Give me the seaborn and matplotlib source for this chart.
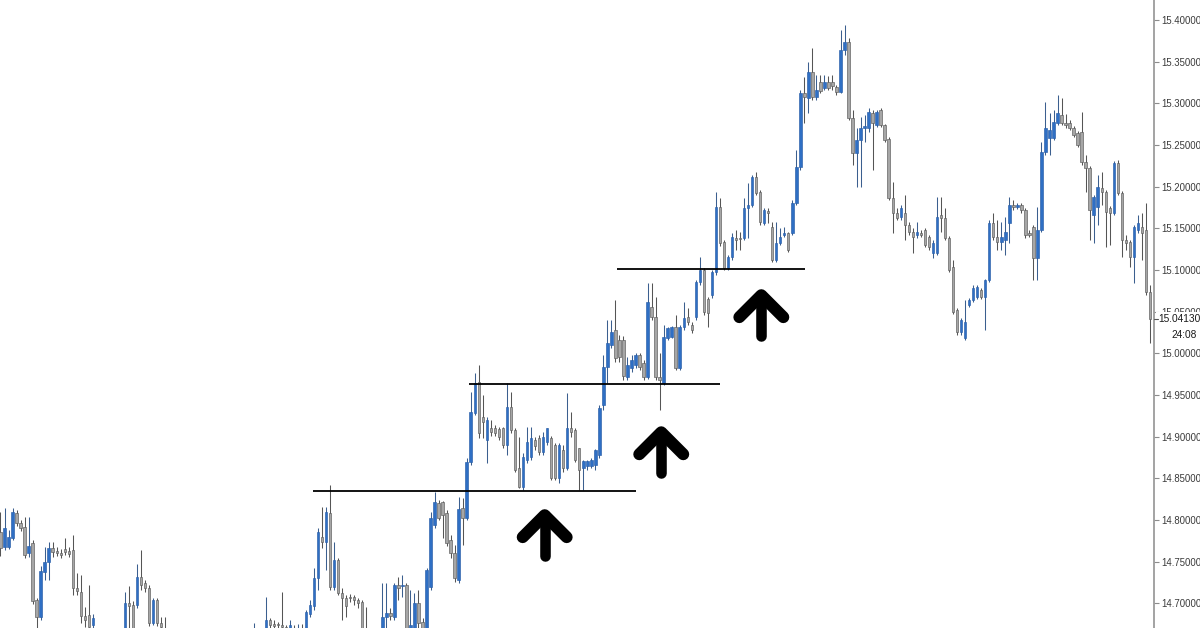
import numpy as np
import pandas as pd
import matplotlib
matplotlib.use("Agg")
import matplotlib.pyplot as plt
import matplotlib.transforms as mtransforms
from matplotlib.patches import Rectangle
import seaborn as sns

# ---- OHLC series (one candle per bar) ----
opens = [
    14.786, 14.768, 14.768, 14.778, 14.808, 14.796, 14.792, 14.760, 14.772, 14.704,
    14.684, 14.738, 14.750, 14.766, 14.763, 14.760, 14.765, 14.763, 14.764, 14.718,
    14.714, 14.685, 14.686, 14.674, 14.666, 14.650, 14.642, 14.656, 14.644, 14.652,
    14.658, 14.656, 14.700, 14.698, 14.698, 14.732, 14.724, 14.718, 14.676, 14.704,
    14.676, 14.668, 14.656, 14.650, 14.638, 14.630, 14.620, 14.632, 14.622, 14.614,
    14.608, 14.618, 14.626, 14.620, 14.625, 14.632, 14.638, 14.630, 14.644, 14.650,
    14.646, 14.656, 14.654, 14.656, 14.661, 14.656, 14.656, 14.680, 14.675, 14.675,
    14.674, 14.672, 14.670, 14.668, 14.662, 14.670, 14.668, 14.687, 14.697, 14.730,
    14.780, 14.774, 14.808, 14.720, 14.752, 14.712, 14.706, 14.708, 14.708, 14.704,
    14.702, 14.668, 14.662, 14.650, 14.656, 14.656, 14.684, 14.688, 14.684, 14.722,
    14.721, 14.722, 14.668, 14.670, 14.700, 14.678, 14.668, 14.720, 14.794, 14.820,
    14.822, 14.808, 14.776, 14.760, 14.728, 14.814, 14.802, 14.870, 14.928, 14.966,
    14.924, 14.896, 14.910, 14.910, 14.909, 14.910, 14.890, 14.936, 14.908, 14.862,
    14.840, 14.872, 14.876, 14.896, 14.898, 14.882, 14.894, 14.898, 14.890, 14.850,
    14.884, 14.862, 14.910, 14.908, 14.886, 14.862, 14.865, 14.865, 14.866, 14.878,
    14.938, 14.984, 15.010, 15.028, 15.016, 15.016, 14.972, 14.982, 14.986, 14.998,
    14.988, 14.972, 15.056, 15.044, 14.972, 14.964, 15.018, 15.020, 15.032, 14.982,
    15.032, 15.044, 15.034, 15.044, 15.086, 15.100, 15.065, 15.070, 15.098, 15.176,
    15.134, 15.102, 15.116, 15.138, 15.138, 15.138, 15.174, 15.178, 15.212, 15.194,
    15.156, 15.171, 15.152, 15.112, 15.132, 15.142, 15.144, 15.144, 15.180, 15.224,
    15.312, 15.306, 15.338, 15.308, 15.326, 15.318, 15.326, 15.326, 15.320, 15.314,
    15.364, 15.374, 15.282, 15.240, 15.256, 15.270, 15.270, 15.288, 15.274, 15.292,
    15.274, 15.257, 15.186, 15.168, 15.164, 15.168, 15.154, 15.146, 15.142, 15.144,
    15.148, 15.140, 15.120, 15.120, 15.166, 15.162, 15.138, 15.104, 15.052, 15.026,
    15.018, 15.058, 15.064, 15.068, 15.076, 15.068, 15.088, 15.156, 15.140, 15.134,
    15.136, 15.156, 15.178, 15.176, 15.178, 15.172, 15.144, 15.152, 15.114, 15.148,
    15.242, 15.258, 15.258, 15.276, 15.286, 15.276, 15.276, 15.270, 15.264, 15.266,
    15.230, 15.222, 15.166, 15.176, 15.198, 15.194, 15.174, 15.168, 15.228, 15.192,
    15.136, 15.134, 15.116, 15.148, 15.152, 15.148, 15.074,
]
highs = [
    14.810, 14.814, 14.788, 14.814, 14.812, 14.800, 14.804, 14.804, 14.776, 14.706,
    14.745, 14.768, 14.774, 14.774, 14.768, 14.765, 14.778, 14.768, 14.782, 14.736,
    14.734, 14.696, 14.722, 14.687, 14.668, 14.661, 14.666, 14.663, 14.662, 14.667,
    14.668, 14.714, 14.721, 14.703, 14.747, 14.764, 14.728, 14.722, 14.706, 14.706,
    14.684, 14.684, 14.663, 14.658, 14.646, 14.637, 14.642, 14.638, 14.630, 14.622,
    14.627, 14.634, 14.633, 14.631, 14.642, 14.649, 14.646, 14.654, 14.658, 14.660,
    14.664, 14.666, 14.667, 14.676, 14.668, 14.666, 14.708, 14.682, 14.680, 14.678,
    14.714, 14.674, 14.680, 14.674, 14.675, 14.675, 14.692, 14.704, 14.742, 14.790,
    14.816, 14.816, 14.842, 14.774, 14.754, 14.718, 14.710, 14.711, 14.710, 14.706,
    14.704, 14.696, 14.668, 14.666, 14.664, 14.724, 14.724, 14.694, 14.724, 14.732,
    14.734, 14.724, 14.716, 14.712, 14.716, 14.682, 14.742, 14.810, 14.834, 14.824,
    14.823, 14.812, 14.782, 14.770, 14.828, 14.826, 14.874, 14.954, 14.976, 14.986,
    14.950, 14.924, 14.920, 14.914, 14.912, 14.912, 14.964, 14.954, 14.910, 14.900,
    14.880, 14.912, 14.912, 14.900, 14.902, 14.906, 14.911, 14.901, 14.892, 14.892,
    14.890, 14.952, 14.930, 14.910, 14.887, 14.872, 14.872, 14.874, 14.885, 14.938,
    14.998, 15.040, 15.040, 15.064, 15.022, 15.021, 14.996, 14.998, 15.000, 15.000,
    14.992, 15.084, 15.084, 15.068, 15.000, 15.034, 15.032, 15.033, 15.046, 15.034,
    15.062, 15.054, 15.038, 15.088, 15.116, 15.102, 15.068, 15.100, 15.194, 15.186,
    15.136, 15.118, 15.144, 15.148, 15.146, 15.186, 15.204, 15.214, 15.218, 15.196,
    15.174, 15.174, 15.158, 15.158, 15.150, 15.152, 15.146, 15.184, 15.244, 15.316,
    15.332, 15.350, 15.366, 15.334, 15.334, 15.334, 15.333, 15.334, 15.322, 15.388,
    15.394, 15.378, 15.292, 15.270, 15.284, 15.286, 15.294, 15.292, 15.292, 15.294,
    15.275, 15.260, 15.206, 15.174, 15.178, 15.190, 15.158, 15.150, 15.158, 15.148,
    15.150, 15.142, 15.136, 15.188, 15.188, 15.174, 15.141, 15.112, 15.054, 15.042,
    15.064, 15.066, 15.082, 15.082, 15.078, 15.089, 15.160, 15.168, 15.160, 15.158,
    15.164, 15.188, 15.184, 15.180, 15.180, 15.174, 15.148, 15.154, 15.176, 15.254,
    15.302, 15.288, 15.292, 15.310, 15.306, 15.287, 15.280, 15.273, 15.267, 15.290,
    15.238, 15.225, 15.190, 15.214, 15.218, 15.196, 15.177, 15.231, 15.232, 15.195,
    15.142, 15.136, 15.154, 15.166, 15.168, 15.180, 15.082,
]
lows = [
    14.757, 14.764, 14.765, 14.776, 14.793, 14.787, 14.754, 14.756, 14.699, 14.666,
    14.680, 14.728, 14.728, 14.756, 14.757, 14.754, 14.758, 14.756, 14.710, 14.710,
    14.676, 14.672, 14.666, 14.666, 14.638, 14.630, 14.632, 14.634, 14.638, 14.644,
    14.646, 14.650, 14.666, 14.663, 14.694, 14.716, 14.714, 14.673, 14.674, 14.673,
    14.666, 14.650, 14.642, 14.630, 14.622, 14.612, 14.614, 14.615, 14.603, 14.598,
    14.601, 14.610, 14.613, 14.614, 14.615, 14.625, 14.622, 14.624, 14.636, 14.638,
    14.639, 14.644, 14.646, 14.646, 14.644, 14.646, 14.650, 14.662, 14.666, 14.668,
    14.662, 14.656, 14.661, 14.656, 14.656, 14.658, 14.666, 14.684, 14.692, 14.716,
    14.766, 14.740, 14.716, 14.716, 14.710, 14.680, 14.684, 14.702, 14.698, 14.694,
    14.656, 14.650, 14.638, 14.642, 14.644, 14.650, 14.662, 14.680, 14.680, 14.704,
    14.708, 14.662, 14.656, 14.666, 14.670, 14.662, 14.666, 14.716, 14.790, 14.800,
    14.778, 14.769, 14.754, 14.726, 14.724, 14.770, 14.800, 14.866, 14.926, 14.898,
    14.898, 14.868, 14.901, 14.901, 14.896, 14.886, 14.878, 14.904, 14.858, 14.838,
    14.836, 14.868, 14.872, 14.884, 14.878, 14.878, 14.890, 14.848, 14.848, 14.844,
    14.858, 14.860, 14.900, 14.870, 14.836, 14.836, 14.860, 14.862, 14.860, 14.874,
    14.932, 14.964, 15.006, 14.990, 14.990, 14.968, 14.968, 14.978, 14.982, 14.980,
    14.968, 14.969, 15.040, 14.968, 14.932, 14.962, 15.016, 15.018, 14.980, 14.980,
    15.028, 15.034, 15.024, 15.040, 15.082, 15.046, 15.032, 15.066, 15.094, 15.129,
    15.100, 15.100, 15.112, 15.124, 15.124, 15.136, 15.138, 15.176, 15.190, 15.154,
    15.154, 15.156, 15.110, 15.110, 15.130, 15.140, 15.122, 15.142, 15.178, 15.220,
    15.276, 15.288, 15.304, 15.304, 15.312, 15.316, 15.316, 15.316, 15.310, 15.312,
    15.358, 15.280, 15.226, 15.200, 15.200, 15.254, 15.266, 15.220, 15.272, 15.272,
    15.254, 15.184, 15.144, 15.160, 15.160, 15.136, 15.142, 15.120, 15.138, 15.140,
    15.128, 15.124, 15.114, 15.118, 15.146, 15.136, 15.098, 15.047, 15.022, 15.022,
    15.016, 15.056, 15.062, 15.065, 15.065, 15.028, 15.086, 15.136, 15.124, 15.124,
    15.118, 15.132, 15.172, 15.173, 15.168, 15.138, 15.140, 15.088, 15.088, 15.146,
    15.238, 15.238, 15.256, 15.274, 15.274, 15.270, 15.268, 15.260, 15.248, 15.226,
    15.194, 15.136, 15.132, 15.154, 15.178, 15.128, 15.130, 15.166, 15.190, 15.116,
    15.124, 15.104, 15.084, 15.144, 15.112, 15.070, 15.012,
]
closes = [
    14.766, 14.790, 14.780, 14.810, 14.796, 14.790, 14.758, 14.769, 14.703, 14.684,
    14.739, 14.750, 14.766, 14.762, 14.760, 14.758, 14.762, 14.759, 14.718, 14.715,
    14.685, 14.680, 14.672, 14.682, 14.650, 14.642, 14.656, 14.644, 14.652, 14.658,
    14.656, 14.700, 14.697, 14.670, 14.732, 14.722, 14.718, 14.676, 14.704, 14.676,
    14.672, 14.656, 14.650, 14.638, 14.630, 14.620, 14.632, 14.622, 14.614, 14.608,
    14.618, 14.626, 14.620, 14.625, 14.632, 14.638, 14.630, 14.644, 14.650, 14.646,
    14.656, 14.654, 14.658, 14.661, 14.656, 14.658, 14.680, 14.674, 14.673, 14.674,
    14.672, 14.666, 14.674, 14.662, 14.670, 14.668, 14.690, 14.698, 14.730, 14.786,
    14.774, 14.810, 14.720, 14.752, 14.712, 14.706, 14.697, 14.706, 14.704, 14.700,
    14.668, 14.662, 14.650, 14.656, 14.654, 14.684, 14.688, 14.685, 14.722, 14.718,
    14.722, 14.668, 14.674, 14.700, 14.676, 14.670, 14.740, 14.802, 14.822, 14.802,
    14.806, 14.772, 14.760, 14.730, 14.813, 14.802, 14.870, 14.930, 14.964, 14.904,
    14.918, 14.920, 14.906, 14.904, 14.900, 14.890, 14.936, 14.908, 14.860, 14.840,
    14.876, 14.894, 14.898, 14.889, 14.882, 14.900, 14.910, 14.850, 14.850, 14.890,
    14.862, 14.910, 14.906, 14.872, 14.860, 14.871, 14.871, 14.872, 14.884, 14.934,
    14.984, 15.012, 15.026, 14.994, 14.996, 14.973, 14.986, 14.992, 14.998, 14.984,
    14.972, 15.062, 15.044, 14.972, 14.968, 15.020, 15.030, 15.032, 14.982, 15.032,
    15.042, 15.038, 15.028, 15.086, 15.100, 15.050, 15.048, 15.098, 15.176, 15.132,
    15.102, 15.116, 15.140, 15.136, 15.137, 15.174, 15.178, 15.212, 15.192, 15.158,
    15.172, 15.168, 15.112, 15.132, 15.140, 15.144, 15.124, 15.180, 15.224, 15.312,
    15.308, 15.338, 15.308, 15.316, 15.315, 15.326, 15.318, 15.321, 15.314, 15.364,
    15.374, 15.282, 15.240, 15.256, 15.270, 15.273, 15.290, 15.276, 15.290, 15.274,
    15.256, 15.186, 15.168, 15.162, 15.174, 15.154, 15.146, 15.140, 15.146, 15.142,
    15.130, 15.128, 15.132, 15.164, 15.162, 15.138, 15.100, 15.050, 15.026, 15.040,
    15.038, 15.064, 15.078, 15.080, 15.068, 15.088, 15.156, 15.140, 15.134, 15.140,
    15.146, 15.178, 15.176, 15.178, 15.172, 15.142, 15.142, 15.114, 15.148, 15.242,
    15.270, 15.268, 15.278, 15.288, 15.276, 15.274, 15.270, 15.262, 15.250, 15.230,
    15.222, 15.172, 15.188, 15.200, 15.194, 15.170, 15.168, 15.228, 15.192, 15.136,
    15.132, 15.116, 15.152, 15.156, 15.144, 15.074, 15.0413,
]

# ---- annotations: support levels (price, first bar, last bar) and arrows ----
support_levels = [14.8348, 14.9631, 15.1010]
support_start = [77.7, 116.5, 153.3]
support_end = [158.2, 179.1, 200.2]
arrow_bar = [135.4, 164.4, 189.3]
arrow_tip_price = [14.813, 14.9125, 15.077]

price_ticks = [14.70, 14.75, 14.80, 14.85, 14.90, 14.95, 15.00, 15.05,
               15.10, 15.15, 15.20, 15.25, 15.30, 15.35, 15.40]
last_price_text = "15.04130"
countdown_text = "24:08"

UP_COLOR = "#2f6fc4"
DOWN_COLOR = "#a6a6a6"

df = pd.DataFrame({"open": opens, "high": highs, "low": lows, "close": closes})
df["bar"] = np.arange(len(df))

sns.set_theme(style="white")
plt.rcParams["font.family"] = ["Liberation Sans", "DejaVu Sans"]

FIG_W, FIG_H = 1200, 628
PLOT_W = 1154
fig = plt.figure(figsize=(FIG_W / 100, FIG_H / 100), dpi=100)
fig.patch.set_facecolor("white")
ax = fig.add_axes([0, 0, PLOT_W / FIG_W, 1])
ax.set_facecolor("white")

XLIM = (-0.12, 287.0)
YLIM = (14.6704, 15.424)
ax.set_xlim(*XLIM)
ax.set_ylim(*YLIM)

# data units per pixel, used to size the arrow glyphs
dx_px = (XLIM[1] - XLIM[0]) / PLOT_W
dy_px = (YLIM[1] - YLIM[0]) / FIG_H

up = df["close"] >= df["open"]
face = np.where(up, UP_COLOR, DOWN_COLOR)
edge = np.where(up, "#2a5fa8", "#5a5a5a")
wick = np.where(up, "#3b5f8f", "#555555")

body_bottom = np.minimum(df["open"], df["close"])
body_height = np.maximum((df["close"] - df["open"]).abs(), 1.0 * dy_px)

ax.vlines(df["bar"], df["low"], df["high"], colors=wick, linewidth=0.75, zorder=2)
ax.bar(df["bar"], body_height, bottom=body_bottom, width=0.62,
       color=face, edgecolor=edge, linewidth=0.45, zorder=3)

# horizontal support lines
for lvl, x0, x1 in zip(support_levels, support_start, support_end):
    ax.hlines(lvl, x0, x1, color="black", linewidth=1.3, zorder=4)

# thick upward arrows beneath the levels
for xb, tip in zip(arrow_bar, arrow_tip_price):
    y0 = tip - 6 * dy_px
    ax.plot([xb - 22 * dx_px, xb, xb + 22 * dx_px],
            [y0 - 22 * dy_px, y0, y0 - 22 * dy_px],
            color="black", linewidth=8.6, solid_capstyle="round",
            solid_joinstyle="round", zorder=6)
    ax.plot([xb, xb], [y0, y0 - 41 * dy_px], color="black", linewidth=7.6,
            solid_capstyle="round", zorder=6)

# right-hand price scale
ax.yaxis.tick_right()
ax.set_yticks(price_ticks)
ax.set_yticklabels([f"{t:.5f}" for t in price_ticks])
ax.tick_params(axis="y", which="major", direction="out", length=3.5, width=0.8,
               color="#8c8c8c", labelsize=6.9, labelcolor="#3a3a3a", pad=1.6,
               right=True, left=False)
ax.set_xticks([])
for side in ("top", "left", "bottom"):
    ax.spines[side].set_visible(False)
ax.spines["right"].set_color("#9c9c9c")
ax.spines["right"].set_linewidth(1.3)
ax.grid(False)

# last-price tag on the scale
last_close = closes[-1]
blend = mtransforms.blended_transform_factory(ax.transAxes, ax.transData)
ax.add_patch(Rectangle((1 + 1.5 / PLOT_W, last_close - 26 * dy_px), 50 / PLOT_W, 33 * dy_px,
                       transform=blend, facecolor="white", edgecolor="none",
                       clip_on=False, zorder=10))
ax.plot([1, 1 + 4 / PLOT_W], [last_close, last_close], transform=blend,
        color="#555555", linewidth=0.8, clip_on=False, zorder=11)
ax.annotate(last_price_text, xy=(1, last_close), xycoords=blend,
            xytext=(4, 0), textcoords="offset pixels", ha="left", va="center",
            fontsize=7.3, color="#1a1a1a", annotation_clip=False, zorder=12)
ax.annotate(countdown_text, xy=(1, last_close), xycoords=blend,
            xytext=(43, -16), textcoords="offset pixels", ha="right", va="center",
            fontsize=7.3, color="#1a1a1a", annotation_clip=False, zorder=12)

fig.savefig("out.png", dpi=100, facecolor="white")
